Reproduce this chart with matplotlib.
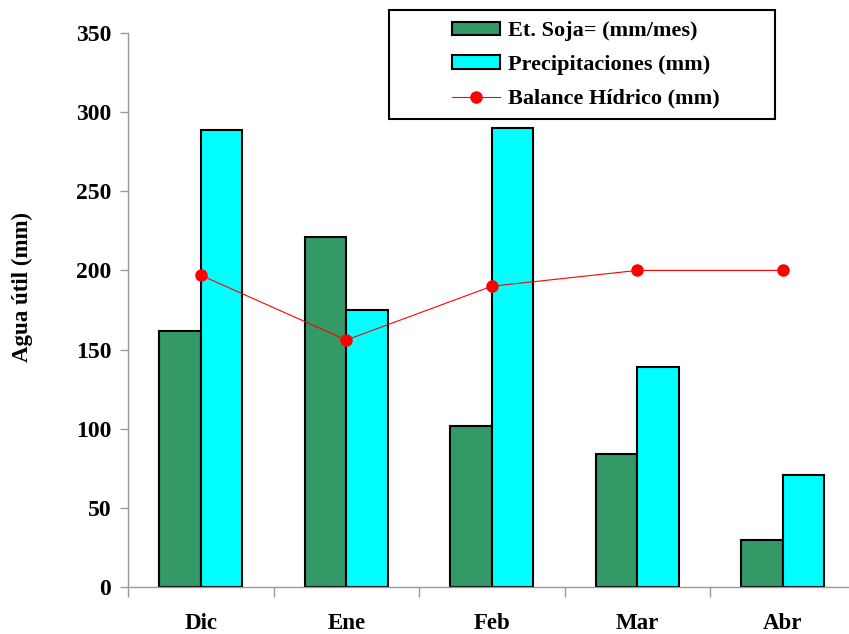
import numpy as np
import matplotlib
matplotlib.use("Agg")
import matplotlib.pyplot as plt
from matplotlib.patches import Rectangle

meses = ["Dic", "Ene", "Feb", "Mar", "Abr"]
et_soja = [162, 221, 102, 84, 30]
precipitaciones = [289, 175, 290, 139, 71]
balance = [197, 156, 190, 200, 200]

plt.rcParams['font.family'] = ['Liberation Serif', 'DejaVu Serif']
plt.rcParams['font.weight'] = 'bold'

fig = plt.figure(figsize=(8.49, 6.34), dpi=100)
ax = fig.add_axes([128/849, 1-587/634, 727.5/849, 554/634])

x = np.arange(len(meses))
w = 0.285
b1 = ax.bar(x - w/2, et_soja, w, color="#339966", edgecolor="black", linewidth=1.5,
            label="Et. Soja= (mm/mes)", zorder=2)
b2 = ax.bar(x + w/2, precipitaciones, w, color="#00FFFF", edgecolor="black", linewidth=1.5,
            label="Precipitaciones (mm)", zorder=2)
l1, = ax.plot(x, balance, color="#FF0000", lw=0.8, marker="o", markersize=8,
              label="Balance Hídrico (mm)", zorder=3)

ax.set_xlim(-0.5, 4.5)
ax.set_ylim(0, 350)
ax.set_yticks(range(0, 351, 50))
ax.set_xticks(x)
ax.set_xticklabels(meses)
ax.set_xticks(np.arange(-0.5, 4.6, 1), minor=True)
ax.tick_params(axis='x', which='major', length=0, pad=19, labelsize=16.5)
ax.tick_params(axis='x', which='minor', length=7, color="#999999", width=1)
ax.tick_params(axis='y', length=6, color="#999999", width=1, pad=6, labelsize=17)
for s in ['top', 'right']:
    ax.spines[s].set_visible(False)
for s in ['left', 'bottom']:
    ax.spines[s].set_color("#999999")
    ax.spines[s].set_linewidth(1)
ax.set_ylabel("Agua útil (mm)", fontsize=16.5, fontweight='bold')
ax.yaxis.set_label_coords(-0.1306, (587-287)/554)

# legend box like the Excel one
fig.patches.append(Rectangle((389/849, 1-119/634), 386/849, 109/634,
                             transform=fig.transFigure, fill=False,
                             edgecolor="black", linewidth=1.5, zorder=5))
fig.legend([b1, b2, l1], [b1.get_label(), b2.get_label(), l1.get_label()],
           loc="center", bbox_to_anchor=(586/849, 1-65/634), frameon=False,
           fontsize=16, handlelength=2.15, handleheight=0.55, handletextpad=0.35,
           labelspacing=0.62, borderpad=0)

fig.savefig("out.png", dpi=100)
